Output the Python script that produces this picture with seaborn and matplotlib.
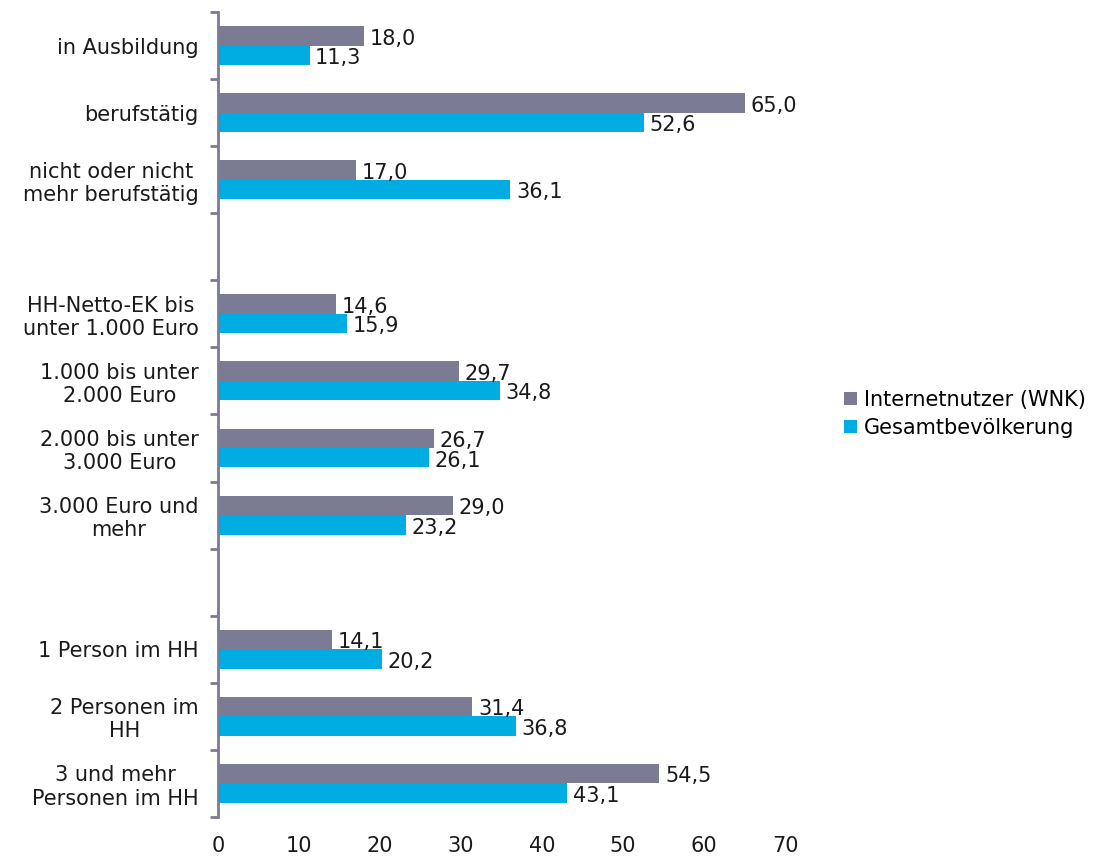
import pandas as pd
import numpy as np
import seaborn as sns
import matplotlib.pyplot as plt
from matplotlib.ticker import FixedLocator

# ---------- data ----------
categories = [
    "in Ausbildung",
    "berufstätig",
    "nicht oder nicht\nmehr berufstätig",
    " ",
    "HH-Netto-EK bis\nunter 1.000 Euro",
    "1.000 bis unter\n2.000 Euro",
    "2.000 bis unter\n3.000 Euro",
    "3.000 Euro und\nmehr",
    "  ",
    "1 Person im HH",
    "2 Personen im\nHH",
    "3 und mehr\nPersonen im HH",
]
internetnutzer = [18.0, 65.0, 17.0, np.nan, 14.6, 29.7, 26.7, 29.0, np.nan, 14.1, 31.4, 54.5]
gesamt = [11.3, 52.6, 36.1, np.nan, 15.9, 34.8, 26.1, 23.2, np.nan, 20.2, 36.8, 43.1]
series = ["Internetnutzer (WNK)", "Gesamtbevölkerung"]
colors = ["#7B7B93", "#00ADE2"]
x_ticks = [0, 10, 20, 30, 40, 50, 60, 70]

df = pd.DataFrame({
    "Kategorie": categories * 2,
    "Wert": internetnutzer + gesamt,
    "Gruppe": [series[0]] * len(categories) + [series[1]] * len(categories),
})

# ---------- plot ----------
plt.rcParams["font.family"] = ["DejaVu Sans"]
fig = plt.figure(figsize=(11.14, 8.59), dpi=100)
ax = fig.add_axes([0.1957, 0.049, 0.509, 0.937])

sns.barplot(
    data=df,
    x="Wert",
    y="Kategorie",
    hue="Gruppe",
    order=categories,
    hue_order=series,
    palette=colors,
    saturation=1,
    orient="h",
    width=0.58,
    ax=ax,
)

for cont in ax.containers:
    texts = ax.bar_label(cont, fmt=lambda v: f"{v:.1f}".replace(".", ","),
                         padding=3, fontsize=15, color="#1a1a1a")
    for t in texts:
        t.xyann = (4, -2)

ax.set_xlim(0, 70)
ax.set_ylim(len(categories) - 0.5, -0.5)
ax.set_xticks(x_ticks)
ax.set_xlabel("")
ax.set_ylabel("")

ax.tick_params(axis="x", length=0, pad=14, labelsize=15, labelcolor="#1a1a1a")
ax.tick_params(axis="y", which="major", length=0, pad=14, labelsize=15, labelcolor="#1a1a1a")
for lbl in ax.get_yticklabels():
    lbl.set_multialignment("center")

ax.yaxis.set_minor_locator(FixedLocator(np.arange(-0.5, len(categories), 1.0)))
ax.tick_params(axis="y", which="minor", length=6, width=2, color="#7B7B93", direction="out")

for side in ["top", "right", "bottom"]:
    ax.spines[side].set_visible(False)
ax.spines["left"].set_color("#7B7B93")
ax.spines["left"].set_linewidth(2)

handles, labels = ax.get_legend_handles_labels()
ax.legend(handles, labels, loc="center left", bbox_to_anchor=(0.741, 0.518),
          bbox_transform=fig.transFigure, frameon=False, fontsize=15,
          handlelength=0.6, handleheight=0.6, handletextpad=0.35, labelspacing=0.4)

fig.savefig("out.png", dpi=100)
